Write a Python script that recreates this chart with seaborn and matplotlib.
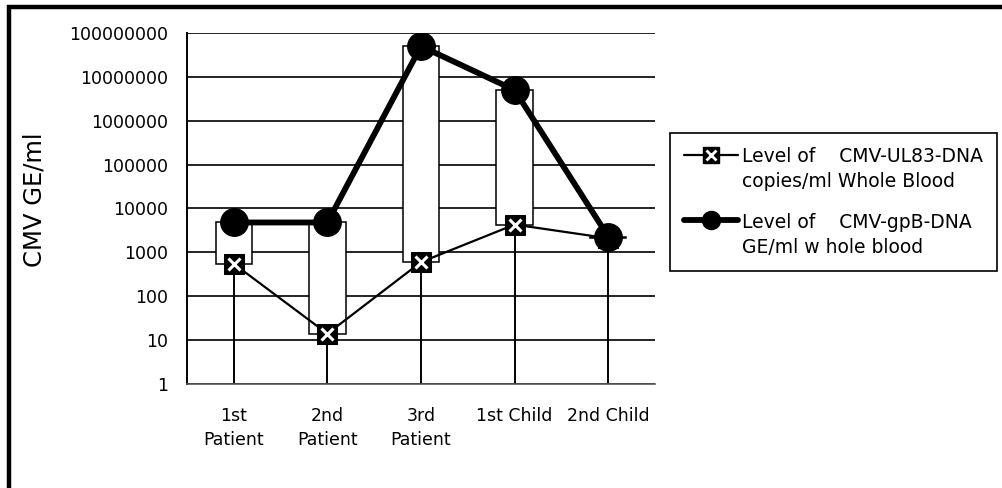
import numpy as np
import pandas as pd
import matplotlib
matplotlib.use("Agg")
import matplotlib.pyplot as plt
from matplotlib.lines import Line2D
from matplotlib.legend_handler import HandlerTuple
import seaborn as sns

# data
categories = ["1st Patient", "2nd Patient", "3rd Patient", "1st Child", "2nd Child"]
tick_labels = ["1st\nPatient", "2nd\nPatient", "3rd\nPatient", "1st Child", "2nd Child"]
ul83_dna = [550, 14, 600, 4300, 2100]            # copies/ml whole blood
gpb_dna = [4800, 4800, 50000000, 5000000, 2300]  # GE/ml whole blood
y_ticks = [1, 10, 100, 1000, 10000, 100000, 1000000, 10000000, 100000000]

ul83_label = "Level of    CMV-UL83-DNA\ncopies/ml Whole Blood"
gpb_label = "Level of    CMV-gpB-DNA\nGE/ml w hole blood"

df = pd.DataFrame({"sample": categories, "pos": np.arange(len(categories)),
                   "ul83": ul83_dna, "gpb": gpb_dna})

sns.set_style("white")
plt.rcParams["font.family"] = ["DejaVu Sans"]
plt.rcParams["text.color"] = "black"
plt.rcParams["xtick.color"] = "black"
plt.rcParams["ytick.color"] = "black"
plt.rcParams["axes.labelcolor"] = "black"

fig = plt.figure(figsize=(10.02, 4.88), dpi=100)
ax = fig.add_axes([0.1866, 0.2131, 0.4671, 0.7193])

ax.set_yscale("log")
ax.set_ylim(1, 1e8)
ax.set_xlim(-0.5, len(categories) - 0.5)

# drop lines from the top value to the axis
ax.vlines(df["pos"], 1, df[["ul83", "gpb"]].max(axis=1), color="black", lw=1.4, zorder=1.5)

# up/down boxes between the two series
ax.bar(df["pos"], df["gpb"] - df["ul83"], bottom=df["ul83"], width=0.39,
       color="white", edgecolor="black", linewidth=1.1, zorder=2)

sns.lineplot(data=df, x="pos", y="ul83", ax=ax, sort=False, color="black", lw=1.6,
             marker="s", markersize=14.5, markeredgecolor="black", zorder=3)
ax.plot(df["pos"], df["ul83"], ls="", marker="x", color="white", ms=8, mew=2.2, zorder=3.2)
sns.lineplot(data=df, x="pos", y="gpb", ax=ax, sort=False, color="black", lw=4.2,
             marker="o", markersize=20, markeredgecolor="black", zorder=4)

# axes styling
ax.set_yticks(y_ticks)
ax.set_yticklabels([str(v) for v in y_ticks])
ax.yaxis.set_minor_locator(matplotlib.ticker.NullLocator())
ax.set_xticks(df["pos"])
ax.set_xticklabels(tick_labels, linespacing=1.4)
ax.set_xticks(np.arange(len(categories) - 1) + 0.5, minor=True)
ax.tick_params(axis="x", which="major", length=0, pad=16.5, labelsize=12.5)
ax.tick_params(axis="x", which="minor", length=4, width=1.2, color="black", direction="out")
ax.tick_params(axis="y", which="major", length=5, width=1.2, color="black",
               direction="out", pad=8.5, labelsize=12.5)
ax.grid(axis="y", color="black", lw=1.2)
ax.set_axisbelow(True)
ax.set_xlabel("")
ax.set_ylabel("")
for s in ["top", "right"]:
    ax.spines[s].set_visible(False)
ax.spines["left"].set_color("black")
ax.spines["left"].set_linewidth(1.4)
ax.spines["bottom"].set_color("#555555")
ax.spines["bottom"].set_linewidth(1.2)

fig.text(0.034, 0.590, "CMV GE/ml", rotation=90, ha="center", va="center", fontsize=17.5)

# legend
h_ul83 = (Line2D([], [], color="black", lw=1.6, marker="s", ms=12),
          Line2D([], [], ls="", marker="x", color="white", ms=6.5, mew=2))
h_gpb = Line2D([], [], color="black", lw=4.2, marker="o", ms=13)
leg = fig.legend([h_ul83, h_gpb], [ul83_label, gpb_label],
                 handler_map={tuple: HandlerTuple(ndivide=1)},
                 loc="upper left", bbox_to_anchor=(670 / 1002, 1 - 133 / 488),
                 borderaxespad=0, fontsize=13.5, frameon=True, fancybox=False,
                 edgecolor="black", framealpha=1, handlelength=2.9, handleheight=1.1,
                 handletextpad=0.2, labelspacing=1.15, borderpad=0.75)
leg.get_frame().set_linewidth(1.2)
for t in leg.get_texts():
    t.set_linespacing(1.4)
for col in leg._legend_handle_box.get_children():
    for row in col.get_children():
        row.align = "top"

# outer frame of the scanned figure (top and left edges)
fig.add_artist(Line2D([7 / 1002, 1.0], [1 - 7 / 488, 1 - 7 / 488],
                      transform=fig.transFigure, color="black", lw=3.2,
                      solid_capstyle="butt"))
fig.add_artist(Line2D([9 / 1002, 9 / 1002], [1 - 5 / 488, 0.0],
                      transform=fig.transFigure, color="black", lw=3.2,
                      solid_capstyle="butt"))

fig.savefig("out.png", dpi=100)
